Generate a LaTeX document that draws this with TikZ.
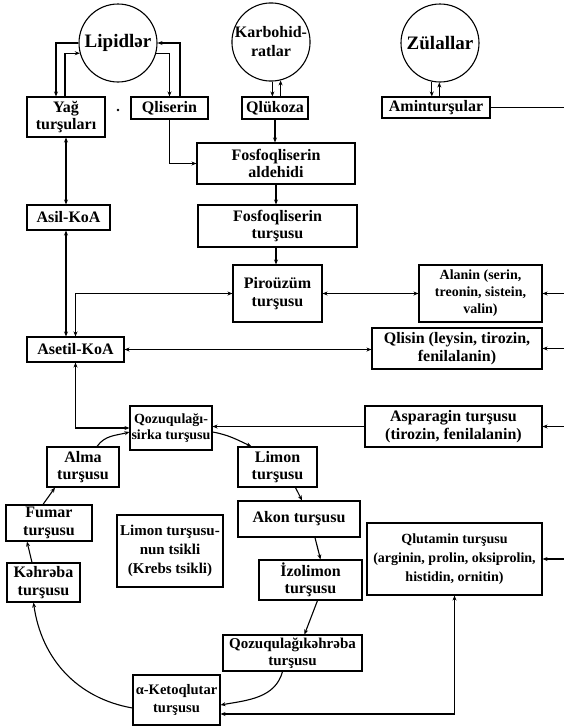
\documentclass[tikz,border=0pt]{standalone}
\usepackage{fontspec}
\setmainfont{Liberation Serif}
\usetikzlibrary{arrows.meta}
\begin{document}
\begin{tikzpicture}[x=1pt,y=-1pt,
  box/.style={draw, line width=1.1pt, rectangle, inner sep=1pt, align=center,
    font=\bfseries\fontsize{16}{17.5}\selectfont},
  circ/.style={draw, circle, line width=1.1pt, inner sep=0pt, align=center,
    font=\bfseries\fontsize{19}{20}\selectfont},
  sz/.style 2 args={minimum width=#1pt, minimum height=#2pt},
  conn/.style={line width=1.1pt},
  arr/.style={conn, -{Stealth[length=5pt,width=4pt]}},
  arrb/.style={conn, {Stealth[length=5pt,width=4pt]}-{Stealth[length=5pt,width=4pt]}},
  wide/.style={font=\bfseries\fontsize{14}{19}\selectfont},
  krebsf/.style={font=\bfseries\fontsize{15}{19}\selectfont},
  mid/.style={font=\bfseries\fontsize{14.5}{18}\selectfont},
  small/.style={font=\bfseries\fontsize{14}{17}\selectfont},
  tight/.style={font=\bfseries\fontsize{14}{16}\selectfont}
]
\useasboundingbox (0,0) rectangle (564,726);

% circles
\node[circ, minimum size=78pt] (lip) at (118,43) {Lipidlər};
\node[circ, minimum size=73pt, font=\bfseries\fontsize{16}{19}\selectfont] (carb) at (271,42) {Karbohid-\\ratlar};
\node[circ, minimum size=78pt] (zul) at (440,43) {Zülallar};

% boxes
\node[box, sz={78}{40}] (yag) at (66,117) {Yağ\\turşuları};
\fill (118,110) circle (1.4pt);
\node[box, sz={77}{22}] (qlis) at (169.5,108) {Qliserin};
\node[box, sz={66}{22}] (qluk) at (275,108) {Qlükoza};
\node[box, sz={108}{21}] (amin) at (436,107.5) {Aminturşular};
\node[box, sz={158}{41}] (ald) at (276,163.5) {Fosfoqliserin\\aldehidi};
\node[box, sz={159}{42}] (ftur) at (277.5,226) {Fosfoqliserin\\turşusu};
\node[box, sz={83}{25}] (asil) at (68.5,217.5) {Asil-KoA};
\node[box, sz={89}{57}] (piro) at (277.5,293.5) {Piroüzüm\\turşusu};
\node[box, small, sz={123}{57}] (alan) at (480.5,293.5) {Alanin (serin,\\treonin, sistein,\\valin)};
\node[box, sz={170}{41}] (qlisin) at (457,348.5) {Qlisin (leysin, tirozin,\\fenilalanin)};
\node[box, sz={97}{25}] (aset) at (75.5,349.5) {Asetil-KoA};
\node[box, sz={177}{41}] (aspar) at (453.5,426.5) {Asparagin turşusu\\(tirozin, fenilalanin)};
\node[box, tight, inner sep=0pt, sz={82}{44}] (qoz) at (171,428) {Qozuqulağı-\\sirka turşusu};
\node[box, sz={72}{40}] (alma) at (83,467) {Alma\\turşusu};
\node[box, sz={79}{40}] (limon) at (277.5,467) {Limon\\turşusu};
\node[box, sz={86}{36}] (fumar) at (49,523) {Fumar\\turşusu};
\node[box, krebsf, sz={106}{72}] (krebs) at (170,551) {Limon turşusu-\\nun tsikli\\(Krebs tsikli)};
\node[box, sz={122}{36}] (akon) at (299,519) {Akon turşusu};
\node[box, wide, sz={175}{72}] (qlut) at (454.5,559) {Qlutamin turşusu\\(arginin, prolin, oksiprolin,\\histidin, ornitin)};
\node[box, sz={73}{39}] (kahr) at (43.5,582.5) {Kəhrəba\\turşusu};
\node[box, sz={103}{40}] (izol) at (310.5,580) {İzolimon\\turşusu};
\node[box, font=\bfseries\fontsize{15}{17}\selectfont, sz={139}{36}] (qkahr) at (292.5,653) {Qozuqulağıkəhrəba\\turşusu};
\node[box, mid, sz={87}{50}] (keto) at (176.5,700) {α-Ketoqlutar\\turşusu};

% right-edge coordinates
\coordinate (rA) at (564,107.5);
\coordinate (rB) at (564,293.5);
\coordinate (rC) at (564,348.5);
\coordinate (rD) at (564,426.5);
\coordinate (rE) at (564,559);

% top connections
\draw[arr] (lip.180) -| ([xshift=-10pt]yag.north);
\draw[arr] ([xshift=-1pt]yag.north) |- (lip.195);
\draw[arr] ([xshift=10.5pt]qlis.north) |- (lip.0);
\draw[arr] (lip.-15) -| (qlis.north);
\draw[arr] (carb.-88) -- (carb.-88 |- qluk.north);
\draw[arr] (carb.-76 |- qluk.north) -- (carb.-76);
\draw[arr] (zul.-102) -- (zul.-102 |- amin.north);
\draw[arr] (zul.-91 |- amin.north) -- (zul.-91);
\draw[conn] (amin.east) -- (rA);

% glycolysis chain
\draw[arr] (qluk.south) -- (qluk.south |- ald.north);
\draw[arr] (qlis.south) |- (ald.west);
\draw[arr] (ald.south) -- (ald.south |- ftur.north);
\draw[arr] (ftur.south -| ald.south) -- (ald.south |- piro.north);

% lipid chain
\draw[arrb] (yag.south) -- (yag.south |- asil.north);
\draw[arrb] (asil.south -| yag.south) -- (yag.south |- aset.north);
\draw[arrb] (aset.north) |- (piro.west);
\draw[arrb] (piro.east) -- (alan.west);
\draw[arr] (rB) -- (alan.east);
\draw[arrb] (aset.east) -- (aset.east -| qlisin.west);
\draw[arr] (rC) -- (qlisin.east);
\draw[arrb] (aset.south) |- (qoz.west);
\draw[arr] (aspar.west) -- (aspar.west -| qoz.east);
\draw[arr] (rD) -- (aspar.east);
\draw[arr] (rE) -- (qlut.east);
\draw[arrb] (qlut.south) |- ([yshift=-14pt]keto.east);

% Krebs cycle
\draw[arr] ([yshift=-4pt]qoz.east) to[out=-10,in=155] ([xshift=-26pt]limon.north);
\draw[arr] ([xshift=18pt]limon.south) -- ([xshift=3pt]akon.north);
\draw[arr] ([xshift=16pt]akon.south) -- ([xshift=10pt]izol.north);
\draw[arr] ([xshift=7pt]izol.south) -- ([xshift=12pt]qkahr.north);
\draw[arr] ([xshift=-10pt]qkahr.south) to[out=-105,in=10] ([yshift=-5pt]keto.east);
\draw[arr] ([yshift=-8pt]keto.west) to[out=170,in=-82] ([xshift=-10pt]kahr.south);
\draw[arr] ([xshift=-11.5pt]kahr.north) -- ([xshift=-22pt]fumar.south);
\draw[arr] ([xshift=-6pt]fumar.north) -- ([xshift=-28pt]alma.south);
\draw[arr] ([xshift=14pt]alma.north) to[out=55,in=195] ([yshift=-4pt]qoz.west);
\end{tikzpicture}
\end{document}
